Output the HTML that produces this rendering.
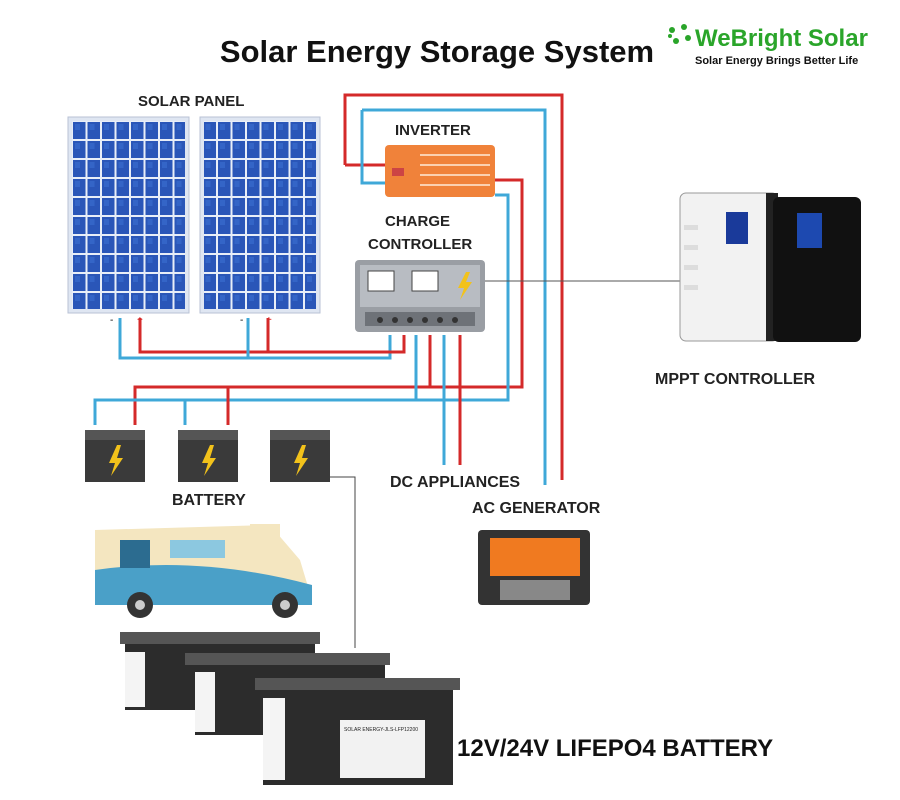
<!DOCTYPE html>
<html><head><meta charset="utf-8"><style>
body{margin:0;background:#fff;}
svg{display:block;font-family:"Liberation Sans",Arial,sans-serif;}
</style></head><body>
<svg width="900" height="800" viewBox="0 0 900 800" xmlns="http://www.w3.org/2000/svg">
<defs>
<pattern id="cells" x="72" y="121" width="14.5" height="19" patternUnits="userSpaceOnUse">
<rect width="14.5" height="19" fill="#e8eef8"/>
<rect x="1" y="1" width="12.5" height="17" fill="#2a56b8"/>
<rect x="3" y="3" width="5" height="6" fill="#3b6fd0" opacity=".6"/>
</pattern>
</defs>
<rect width="900" height="800" fill="#fff"/>
<text x="437" y="62" font-size="31" font-weight="bold" text-anchor="middle" fill="#111">Solar Energy Storage System</text>
<g fill="#2aa52a"><circle cx="672" cy="30" r="3"/><circle cx="684" cy="27" r="3"/><circle cx="676" cy="41" r="3"/><circle cx="688" cy="38" r="3"/><circle cx="670" cy="36" r="2"/></g>
<text x="695" y="46" font-size="24" font-weight="bold" fill="#2aa52a">WeBright Solar</text>
<text x="695" y="64" font-size="11" font-weight="bold" fill="#111">Solar Energy Brings Better Life</text>

<text x="138" y="106" font-size="15" font-weight="bold" fill="#222">SOLAR PANEL</text>
<rect x="68" y="117" width="121" height="196" fill="#dfe6f2" stroke="#b8c2d4"/>
<rect x="72" y="121" width="113" height="188" fill="url(#cells)"/>
<rect x="200" y="117" width="120" height="196" fill="#dfe6f2" stroke="#b8c2d4"/>
<rect x="204" y="121" width="112" height="188" fill="url(#cells)"/>
<text x="110" y="323" font-size="10">-</text><text x="137" y="323" font-size="10" fill="#d00">+</text>
<text x="240" y="323" font-size="10">-</text><text x="266" y="323" font-size="10" fill="#d00">+</text>

<g fill="none" stroke-width="3">
<polyline points="345,165 345,95 562,95 562,480" stroke="#d42a2a"/>
<polyline points="345,165 385,165" stroke="#d42a2a"/>
<polyline points="362,110 545,110 545,485" stroke="#3fa8d8"/>
<polyline points="362,110 362,183 385,183" stroke="#3fa8d8"/>
<polyline points="495,180 522,180 522,387 135,387 135,425" stroke="#d42a2a"/>
<polyline points="495,195 508,195 508,400 95,400 95,425" stroke="#3fa8d8"/>
<polyline points="120,318 120,358 390,358 390,335" stroke="#3fa8d8"/>
<polyline points="140,318 140,352 404,352 404,335" stroke="#d42a2a"/>
<polyline points="248,318 248,358" stroke="#3fa8d8"/>
<polyline points="268,318 268,352" stroke="#d42a2a"/>
<polyline points="416,335 416,400" stroke="#3fa8d8"/>
<polyline points="430,335 430,387" stroke="#d42a2a"/>
<polyline points="444,335 444,465" stroke="#3fa8d8"/>
<polyline points="460,335 460,465" stroke="#d42a2a"/>
<polyline points="185,400 185,425 M280,400 280,425" stroke="#3fa8d8"/>
<polyline points="228,387 228,425 M320,387 320,425" stroke="#d42a2a"/>
</g>

<text x="395" y="135" font-size="15" font-weight="bold" fill="#222">INVERTER</text>
<rect x="385" y="145" width="110" height="52" rx="4" fill="#f0823a"/>
<g stroke="#fbd0b0" stroke-width="2"><line x1="420" y1="155" x2="490" y2="155"/><line x1="420" y1="165" x2="490" y2="165"/><line x1="420" y1="175" x2="490" y2="175"/><line x1="420" y1="185" x2="490" y2="185"/></g>
<rect x="392" y="168" width="12" height="8" fill="#c44"/>
<text x="385" y="226" font-size="15" font-weight="bold" fill="#222">CHARGE</text>
<text x="368" y="249" font-size="15" font-weight="bold" fill="#222">CONTROLLER</text>
<rect x="355" y="260" width="130" height="72" rx="4" fill="#9a9ea4"/>
<rect x="360" y="265" width="120" height="42" fill="#b8bcc2"/>
<rect x="368" y="271" width="26" height="20" fill="#fff" stroke="#444"/>
<rect x="412" y="271" width="26" height="20" fill="#fff" stroke="#444"/>
<polygon points="466,272 458,288 464,288 460,300 472,282 466,282 470,272" fill="#f2c21b"/>
<rect x="365" y="312" width="110" height="14" fill="#6e7278"/>
<g fill="#333"><circle cx="380" cy="320" r="3"/><circle cx="395" cy="320" r="3"/><circle cx="410" cy="320" r="3"/><circle cx="425" cy="320" r="3"/><circle cx="440" cy="320" r="3"/><circle cx="455" cy="320" r="3"/></g>
<line x1="485" y1="281" x2="680" y2="281" stroke="#555" stroke-width="1"/>

<rect x="680" y="193" width="98" height="148" rx="6" fill="#f2f2f2" stroke="#999"/>
<rect x="766" y="193" width="12" height="148" fill="#222"/>
<rect x="726" y="212" width="22" height="32" fill="#1a3a9a"/>
<rect x="773" y="197" width="88" height="145" rx="6" fill="#111"/>
<rect x="797" y="213" width="25" height="35" fill="#1d49b0"/>
<g fill="#ddd"><rect x="684" y="225" width="14" height="5"/><rect x="684" y="245" width="14" height="5"/><rect x="684" y="265" width="14" height="5"/><rect x="684" y="285" width="14" height="5"/></g>
<text x="655" y="384" font-size="16" font-weight="bold" fill="#222">MPPT CONTROLLER</text>

<g>
<rect x="85" y="430" width="60" height="52" fill="#3a3a3a"/><rect x="85" y="430" width="60" height="10" fill="#555"/>
<polygon points="117,445 109,463 115,463 111,476 123,458 117,458 121,445" fill="#f2c21b"/>
<rect x="178" y="430" width="60" height="52" fill="#3a3a3a"/><rect x="178" y="430" width="60" height="10" fill="#555"/>
<polygon points="210,445 202,463 208,463 204,476 216,458 210,458 214,445" fill="#f2c21b"/>
<rect x="270" y="430" width="60" height="52" fill="#3a3a3a"/><rect x="270" y="430" width="60" height="10" fill="#555"/>
<polygon points="302,445 294,463 300,463 296,476 308,458 302,458 306,445" fill="#f2c21b"/>
</g>
<polyline points="330,477 355,477 355,648" fill="none" stroke="#444" stroke-width="1"/>
<text x="172" y="505" font-size="16" font-weight="bold" fill="#222">BATTERY</text>
<text x="390" y="487" font-size="16" font-weight="bold" fill="#222">DC APPLIANCES</text>
<text x="472" y="513" font-size="16" font-weight="bold" fill="#222">AC GENERATOR</text>

<path d="M95,530 L270,525 L300,560 L312,600 L95,600 Z" fill="#f4e6c0"/>
<path d="M95,570 Q200,555 312,585 L312,605 L95,605 Z" fill="#4aa0c8"/>
<rect x="120" y="540" width="30" height="28" fill="#2c6c90"/>
<rect x="170" y="540" width="55" height="18" fill="#8cc8e0"/>
<rect x="250" y="524" width="30" height="16" fill="#f4e6c0"/>
<circle cx="140" cy="605" r="13" fill="#333"/><circle cx="285" cy="605" r="13" fill="#333"/>
<circle cx="140" cy="605" r="5" fill="#ccc"/><circle cx="285" cy="605" r="5" fill="#ccc"/>

<rect x="478" y="530" width="112" height="75" fill="#333" rx="4"/>
<rect x="490" y="538" width="90" height="38" fill="#f07a20"/>
<rect x="500" y="580" width="70" height="20" fill="#888"/>

<g>
<rect x="125" y="640" width="190" height="70" fill="#2c2c2c"/><rect x="125" y="652" width="20" height="55" fill="#f4f4f4"/>
<rect x="195" y="660" width="190" height="75" fill="#2c2c2c"/><rect x="195" y="672" width="20" height="60" fill="#f4f4f4"/>
<rect x="263" y="685" width="190" height="100" fill="#2c2c2c"/><rect x="263" y="698" width="22" height="82" fill="#f4f4f4"/>
<rect x="340" y="720" width="85" height="58" fill="#f2f2f2"/>
<text x="344" y="731" font-size="5" fill="#222">SOLAR ENERGY-JLS-LFP12200</text>
<rect x="255" y="678" width="205" height="12" fill="#555"/>
<rect x="185" y="653" width="205" height="12" fill="#555"/>
<rect x="120" y="632" width="200" height="12" fill="#555"/>
</g>
<text x="457" y="756" font-size="24" font-weight="bold" fill="#111">12V/24V LIFEPO4 BATTERY</text>
</svg>
</body></html>
